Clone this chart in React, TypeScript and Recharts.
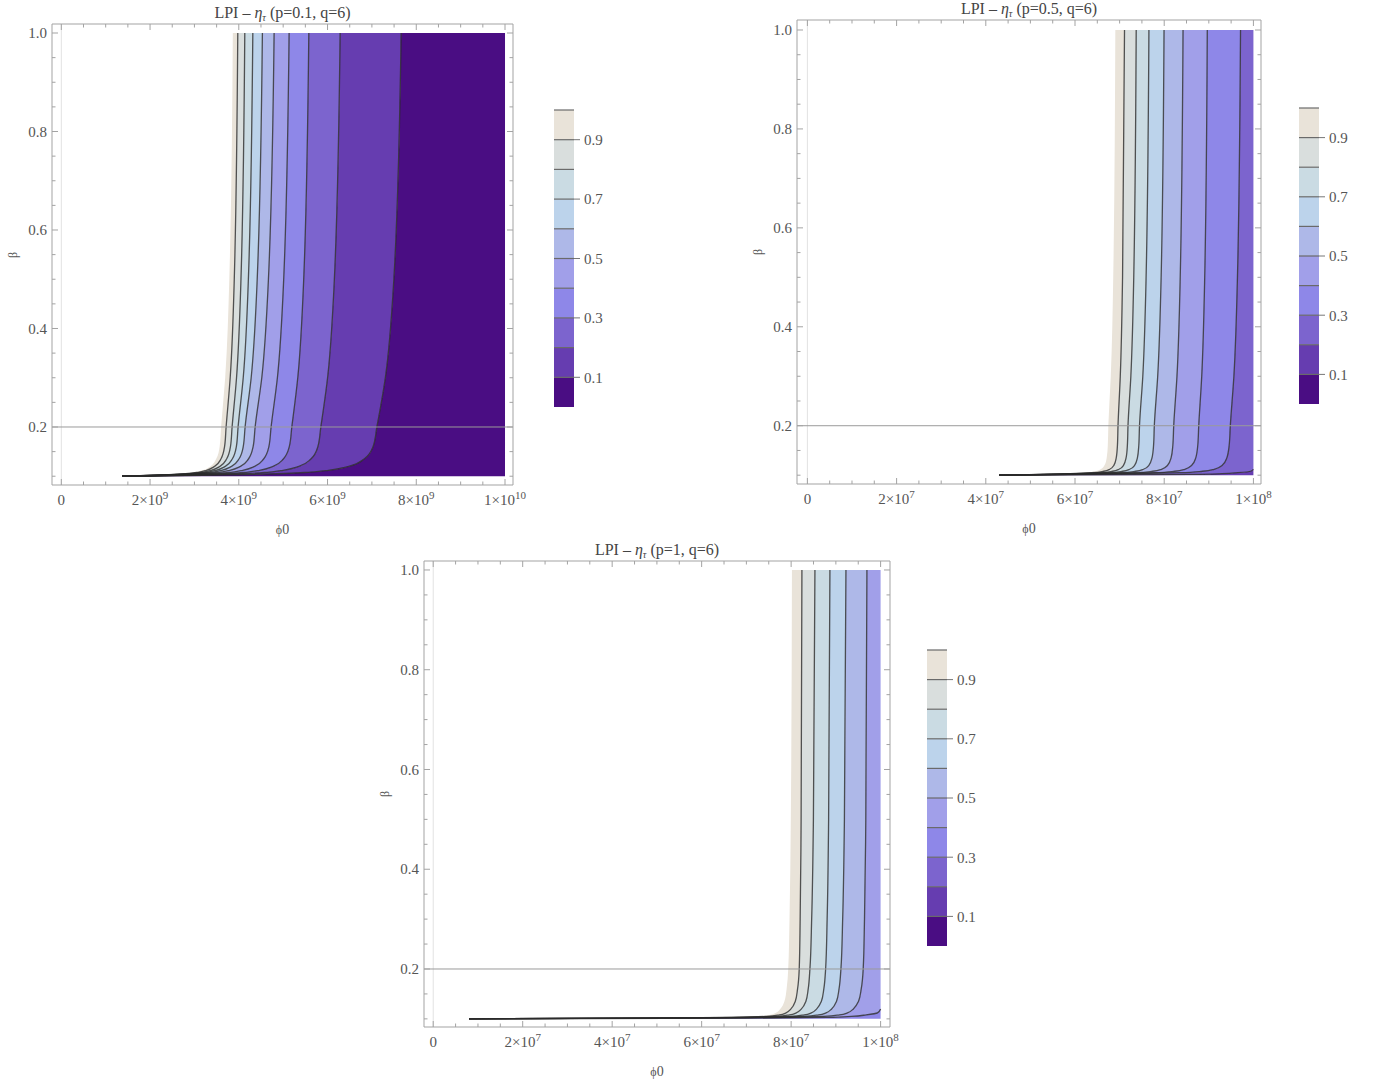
import React from 'react';
import { ComposedChart, Area, Line, XAxis, YAxis, ReferenceLine, BarChart, Bar } from 'recharts';

const FONT = '"Liberation Serif", "DejaVu Serif", serif';
const FRAME = '#a3a3a3';
const TEXT = '#555555';

// colour of band [k/10, (k+1)/10]
const BAND_COLORS = ['#4A0D83', '#663DB0', '#7C64CE', '#8E87E8', '#A19FE9', '#AEB8E8', '#BCD3EB', '#CADBE3', '#D9DEDD', '#E9E3D9'];
const LEVEL_EDGES = [0, 0.1, 0.2, 0.3, 0.4, 0.5, 0.6, 0.7, 0.8, 0.9, 1.0];
const CB_TICKS = [0.1, 0.3, 0.5, 0.7, 0.9];

const Y_TICKS = [0.1, 0.15, 0.2, 0.25, 0.3, 0.35, 0.4, 0.45, 0.5, 0.55, 0.6, 0.65, 0.7, 0.75, 0.8, 0.85, 0.9, 0.95, 1.0];
const Y_MAJOR = [0.2, 0.4, 0.6, 0.8, 1.0];

const P1_XTICKS = [0, 0.5, 1, 1.5, 2, 2.5, 3, 3.5, 4, 4.5, 5, 5.5, 6, 6.5, 7, 7.5, 8, 8.5, 9, 9.5, 10];
const P1_XMAJOR = [0, 2, 4, 6, 8, 10];
const P23_XTICKS = [0, 5, 10, 15, 20, 25, 30, 35, 40, 45, 50, 55, 60, 65, 70, 75, 80, 85, 90, 95, 100];
const P23_XMAJOR = [0, 20, 40, 60, 80, 100];

// beta sampling (descending)
const BETA = [1.0, 0.5, 0.3, 0.2, 0.16, 0.135, 0.12, 0.112, 0.108, 0.105, 0.103, 0.1015, 0.1];

// ---- panel 1 (p=0.1), phi0 in units of 1e9 ----
const P1_EDGE = [3.865, 3.786, 3.693, 3.601, 3.568, 3.489, 3.356, 3.177, 2.999, 2.731, 2.374, 1.928, 1.37];
const P1_C09 = [3.977, 3.898, 3.806, 3.714, 3.679, 3.597, 3.456, 3.269, 3.081, 2.8, 2.425, 1.956, 1.37];
const P1_C08 = [4.135, 4.049, 3.949, 3.849, 3.812, 3.725, 3.576, 3.378, 3.18, 2.882, 2.486, 1.99, 1.37];
const P1_C07 = [4.316, 4.216, 4.1, 3.984, 3.945, 3.853, 3.696, 3.487, 3.278, 2.965, 2.546, 2.024, 1.37];
const P1_C06 = [4.532, 4.415, 4.279, 4.142, 4.1, 4.003, 3.837, 3.615, 3.394, 3.061, 2.617, 2.063, 1.37];
const P1_C05 = [4.796, 4.668, 4.518, 4.368, 4.323, 4.218, 4.038, 3.798, 3.559, 3.199, 2.719, 2.12, 1.37];
const P1_C04 = [5.134, 5.012, 4.87, 4.728, 4.678, 4.56, 4.359, 4.09, 3.821, 3.418, 2.881, 2.21, 1.37];
const P1_C03 = [5.578, 5.463, 5.329, 5.195, 5.138, 5.004, 4.774, 4.468, 4.162, 3.703, 3.091, 2.326, 1.37];
const P1_C02 = [6.284, 6.154, 6.001, 5.849, 5.782, 5.625, 5.356, 4.998, 4.64, 4.102, 3.386, 2.49, 1.37];
const P1_C01 = [7.659, 7.495, 7.303, 7.112, 7.026, 6.825, 6.48, 6.021, 5.562, 4.873, 3.954, 2.806, 1.37];
const P1_END = 10;

// ---- panel 2 (p=0.5), phi0 in units of 1e6 ----
const P2_EDGE = [69.04, 68.57, 68.02, 67.47, 67.35, 67.1, 66.61, 65.76, 64.53, 62.09, 57.68, 51.56, 43];
const P2_C09 = [71.1, 70.66, 70.15, 69.64, 69.51, 69.24, 68.71, 67.78, 66.44, 63.78, 58.98, 52.32, 43];
const P2_C08 = [73.72, 73.17, 72.52, 71.88, 71.74, 71.45, 70.87, 69.86, 68.41, 65.53, 60.33, 53.11, 43];
const P2_C07 = [76.57, 75.94, 75.2, 74.46, 74.3, 73.99, 73.36, 72.26, 70.68, 67.54, 61.88, 54.01, 43];
const P2_C06 = [79.96, 79.31, 78.54, 77.78, 77.61, 77.26, 76.56, 75.35, 73.61, 70.13, 63.87, 55.17, 43];
const P2_C05 = [84.22, 83.59, 82.86, 82.13, 81.93, 81.54, 80.76, 79.39, 77.43, 73.52, 66.48, 56.7, 43];
const P2_C04 = [89.66, 89.08, 88.41, 87.74, 87.52, 87.07, 86.17, 84.61, 82.37, 77.9, 69.84, 58.66, 43];
const P2_C03 = [97.11, 96.42, 95.62, 94.82, 94.56, 94.04, 93.01, 91.19, 88.6, 83.42, 74.09, 61.14, 43];
const P2_C02 = [null, null, null, null, null, null, null, 100, 99.4, 96.5, 93, 86, 43];
const P2_END = 100;

// ---- panel 3 (p=1), phi0 in units of 1e6 ----
const P3_EDGE = [80.18, 79.93, 79.64, 79.35, 78.99, 78.49, 77.57, 76.5, 75.07, 72.22, 65.08, 43.68, 8];
const P3_C09 = [82.41, 82.23, 82.02, 81.81, 81.44, 80.92, 79.96, 78.86, 77.38, 74.43, 67.05, 44.91, 8];
const P3_C08 = [85.32, 84.98, 84.59, 84.2, 83.82, 83.29, 82.3, 81.15, 79.63, 76.58, 68.96, 46.1, 8];
const P3_C07 = [88.67, 88.38, 88.05, 87.71, 87.31, 86.75, 85.72, 84.52, 82.93, 79.74, 71.77, 47.86, 8];
const P3_C06 = [92.25, 91.91, 91.52, 91.13, 90.71, 90.13, 89.05, 87.8, 86.14, 82.82, 74.5, 49.57, 8];
const P3_C05 = [96.94, 96.69, 96.4, 96.11, 95.67, 95.05, 93.91, 92.59, 90.82, 87.3, 78.49, 52.06, 8];
const P3_C04 = [null, null, null, null, null, null, 100, 99.3, 96.8, 93.5, 88, 70, 8];
const P3_END = 100;

type Box = { left: number; top: number; width: number; height: number };
type Frame = { l: number; t: number; r: number; b: number };
type PanelCfg = {
  p: string;
  box: Box;
  frame: Frame;
  xDomain: [number, number];
  yDomain: [number, number];
  unitExp: number;
  xTicks: number[];
  xMajor: number[];
  bounds: (number | null)[][];
  end: number;
  cbar: { left: number; top: number; height: number };
};

const PANELS: PanelCfg[] = [
  {
    p: '0.1',
    box: { left: 0, top: 0, width: 540, height: 540 },
    frame: { l: 52, t: 24, r: 513, b: 485 },
    xDomain: [-0.21, 10.18],
    yDomain: [0.0822, 1.0183],
    unitExp: 9,
    xTicks: P1_XTICKS,
    xMajor: P1_XMAJOR,
    bounds: [P1_EDGE, P1_C09, P1_C08, P1_C07, P1_C06, P1_C05, P1_C04, P1_C03, P1_C02, P1_C01],
    end: P1_END,
    cbar: { left: 554, top: 110, height: 297 },
  },
  {
    p: '0.5',
    box: { left: 745, top: 0, width: 540, height: 540 },
    frame: { l: 797, t: 20, r: 1261, b: 484 },
    xDomain: [-2.33, 101.7],
    yDomain: [0.0822, 1.0202],
    unitExp: 6,
    xTicks: P23_XTICKS,
    xMajor: P23_XMAJOR,
    bounds: [P2_EDGE, P2_C09, P2_C08, P2_C07, P2_C06, P2_C05, P2_C04, P2_C03, P2_C02],
    end: P2_END,
    cbar: { left: 1299, top: 108, height: 296 },
  },
  {
    p: '1',
    box: { left: 372, top: 540, width: 540, height: 540 },
    frame: { l: 424, t: 561, r: 890, b: 1027 },
    xDomain: [-2.06, 102.1],
    yDomain: [0.0837, 1.018],
    unitExp: 6,
    xTicks: P23_XTICKS,
    xMajor: P23_XMAJOR,
    bounds: [P3_EDGE, P3_C09, P3_C08, P3_C07, P3_C06, P3_C05, P3_C04],
    end: P3_END,
    cbar: { left: 927, top: 650, height: 296 },
  },
];

const isIn = (arr: number[], v: number) => arr.some((a) => Math.abs(a - v) < 1e-9);

function xLabel(v: number, exp: number): { m: string; e?: string } {
  if (Math.abs(v) < 1e-12) return { m: '0' };
  const real = v * Math.pow(10, exp);
  const e = Math.floor(Math.log10(real) + 1e-9);
  const m = Math.round(real / Math.pow(10, e));
  return { m: `${m}\u00d710`, e: String(e) };
}

const BottomTick = (props: any) => {
  const { x, y, payload, majors, exp } = props;
  const v = payload.value as number;
  const major = isIn(majors, v);
  const lab = major ? xLabel(v, exp) : null;
  return (
    <g>
      <line x1={x} x2={x} y1={y} y2={y - (major ? 6 : 3.5)} stroke={FRAME} strokeWidth={1} />
      {lab && (
        <text x={x} y={y + 20} textAnchor="middle" fill={TEXT} fontSize={15} fontFamily={FONT}>
          <tspan>{lab.m}</tspan>
          {lab.e && (
            <tspan dy={-6} fontSize={11}>
              {lab.e}
            </tspan>
          )}
        </text>
      )}
    </g>
  );
};

const TopTick = (props: any) => {
  const { x, y, payload, majors } = props;
  const major = isIn(majors, payload.value);
  return <line x1={x} x2={x} y1={y} y2={y + (major ? 6 : 3.5)} stroke={FRAME} strokeWidth={1} />;
};

const LeftTick = (props: any) => {
  const { x, y, payload } = props;
  const v = payload.value as number;
  const major = isIn(Y_MAJOR, v);
  return (
    <g>
      <line x1={x} x2={x + (major ? 6 : 3.5)} y1={y} y2={y} stroke={FRAME} strokeWidth={1} />
      {major && (
        <text x={x - 5} y={y} dy="0.35em" textAnchor="end" fill={TEXT} fontSize={15} fontFamily={FONT}>
          {v.toFixed(1)}
        </text>
      )}
    </g>
  );
};

const RightTick = (props: any) => {
  const { x, y, payload } = props;
  const major = isIn(Y_MAJOR, payload.value);
  return <line x1={x} x2={x - (major ? 6 : 3.5)} y1={y} y2={y} stroke={FRAME} strokeWidth={1} />;
};

function ColorBar({ left, top, height }: { left: number; top: number; height: number }) {
  const row: any = { name: 'bar' };
  BAND_COLORS.forEach((_, k) => {
    row['b' + k] = LEVEL_EDGES[k + 1] - LEVEL_EDGES[k];
  });
  return (
    <div style={{ position: 'absolute', left, top: top - 10 }}>
      <BarChart width={60} height={height + 20} data={[row]} margin={{ top: 10, right: 0, bottom: 10, left: 0 }} barCategoryGap={0}>
        <XAxis dataKey="name" hide />
        <YAxis
          orientation="right"
          width={40}
          type="number"
          domain={[0, 1]}
          allowDataOverflow
          ticks={CB_TICKS}
          interval={0}
          axisLine={false}
          tickLine={{ stroke: '#777777' }}
          tickSize={6}
          tickMargin={4}
          tick={{ fill: TEXT, fontSize: 15, fontFamily: FONT }}
        />
        {BAND_COLORS.map((c, k) => (
          <Bar key={k} dataKey={'b' + k} stackId="s" fill={c} isAnimationActive={false} />
        ))}
        {LEVEL_EDGES.slice(1).map((l) => (
          <ReferenceLine key={l} y={l} stroke="#6a6a6a" strokeWidth={1.2} />
        ))}
      </BarChart>
    </div>
  );
}

function Panel({ cfg }: { cfg: PanelCfg }) {
  const { box, frame } = cfg;
  const WL = 40;
  const WR = 10;
  const HT = 10;
  const HB = 30;
  const margin = {
    left: frame.l - box.left - WL,
    right: box.left + box.width - frame.r - WR,
    top: frame.t - box.top - HT,
    bottom: box.top + box.height - frame.b - HB,
  };
  const nb = cfg.bounds.length;
  const rows = BETA.map((b, j) => {
    const row: any = { beta: b };
    const vals = cfg.bounds.map((arr) => (arr[j] == null ? cfg.end : (arr[j] as number)));
    vals.push(cfg.end);
    for (let i = 0; i < vals.length - 1; i++) row['band' + i] = [vals[i], vals[i + 1]];
    cfg.bounds.forEach((arr, i) => {
      row['c' + i] = arr[j];
    });
    return row;
  });
  const bandIdx = Array.from({ length: nb }, (_, i) => i);
  const lineIdx = Array.from({ length: nb - 1 }, (_, i) => i + 1);
  const cx = (frame.l + frame.r) / 2;
  const cy = (frame.t + frame.b) / 2;

  return (
    <>
      <div style={{ position: 'absolute', left: box.left, top: box.top }}>
        <ComposedChart width={box.width} height={box.height} data={rows} layout="vertical" margin={margin}>
          <XAxis
            xAxisId={0}
            type="number"
            domain={cfg.xDomain}
            allowDataOverflow
            ticks={cfg.xTicks}
            interval={0}
            height={HB}
            stroke={FRAME}
            tickLine={false}
            tickSize={0}
            tickMargin={0}
            tick={(p: any) => <BottomTick {...p} majors={cfg.xMajor} exp={cfg.unitExp} />}
          />
          <XAxis
            xAxisId="top"
            orientation="top"
            type="number"
            domain={cfg.xDomain}
            allowDataOverflow
            ticks={cfg.xTicks}
            interval={0}
            height={HT}
            stroke={FRAME}
            tickLine={false}
            tickSize={0}
            tickMargin={0}
            tick={(p: any) => <TopTick {...p} majors={cfg.xMajor} />}
          />
          <YAxis
            yAxisId={0}
            type="number"
            dataKey="beta"
            domain={cfg.yDomain}
            allowDataOverflow
            reversed
            ticks={Y_TICKS}
            interval={0}
            width={WL}
            stroke={FRAME}
            tickLine={false}
            tickSize={0}
            tickMargin={0}
            tick={(p: any) => <LeftTick {...p} />}
          />
          <YAxis
            yAxisId="right"
            orientation="right"
            type="number"
            dataKey="beta"
            domain={cfg.yDomain}
            allowDataOverflow
            reversed
            ticks={Y_TICKS}
            interval={0}
            width={WR}
            stroke={FRAME}
            tickLine={false}
            tickSize={0}
            tickMargin={0}
            tick={(p: any) => <RightTick {...p} />}
          />
          {bandIdx.map((i) => (
            <Area
              key={'band' + i}
              dataKey={'band' + i}
              type="monotone"
              stroke="none"
              fill={BAND_COLORS[9 - i]}
              fillOpacity={1}
              dot={false}
              activeDot={false}
              isAnimationActive={false}
            />
          ))}
          {lineIdx.map((i) => (
            <Line
              key={'c' + i}
              dataKey={'c' + i}
              type="monotone"
              stroke="#2a2a2a"
              strokeOpacity={0.8}
              strokeWidth={1.3}
              dot={false}
              activeDot={false}
              isAnimationActive={false}
            />
          ))}
          <ReferenceLine x={0} stroke="#e2e2e2" strokeWidth={1} />
          <ReferenceLine y={0.2} stroke="#9a9a9a" strokeWidth={1} />
        </ComposedChart>
      </div>
      <div
        style={{
          position: 'absolute',
          left: cx - 200,
          top: frame.t - 22,
          width: 400,
          textAlign: 'center',
          fontSize: 16,
          lineHeight: '22px',
          color: '#444',
          whiteSpace: 'nowrap',
          fontFamily: FONT,
        }}
      >
        LPI – <i>η</i>
        <span style={{ fontSize: 10, fontStyle: 'italic', position: 'relative', top: 3 }}>τ</span> (p={cfg.p}, q=6)
      </div>
      <div
        style={{
          position: 'absolute',
          left: frame.l - 39 - 20,
          top: cy - 10,
          width: 40,
          height: 20,
          lineHeight: '20px',
          textAlign: 'center',
          fontSize: 12,
          color: TEXT,
          fontFamily: FONT,
          transform: 'rotate(-90deg)',
        }}
      >
        β
      </div>
      <div
        style={{
          position: 'absolute',
          left: cx - 30,
          top: frame.b + 34,
          width: 60,
          height: 20,
          lineHeight: '20px',
          textAlign: 'center',
          color: TEXT,
          fontFamily: FONT,
        }}
      >
        <span style={{ fontSize: 12 }}>ϕ</span>
        <span style={{ fontSize: 14 }}>0</span>
      </div>
      <ColorBar left={cfg.cbar.left} top={cfg.cbar.top} height={cfg.cbar.height} />
    </>
  );
}

export default function App() {
  return (
    <div style={{ position: 'absolute', left: 0, top: 0, width: 1379, height: 1085, background: '#ffffff', fontFamily: FONT }}>
      {PANELS.map((cfg) => (
        <Panel key={cfg.p} cfg={cfg} />
      ))}
    </div>
  );
}
